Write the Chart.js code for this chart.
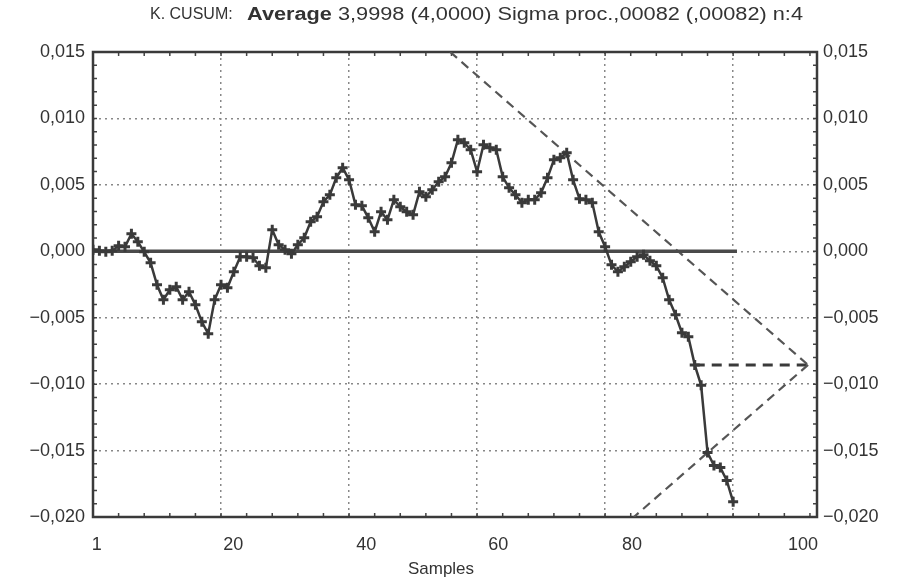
<!DOCTYPE html>
<html>
<head>
<meta charset="utf-8">
<script src="https://cdn.jsdelivr.net/npm/chart.js@4/dist/chart.umd.min.js"></script>
<style>
  body { margin: 0; background: #fff; font-family: "Liberation Sans", Arial, sans-serif; color: #333; }
  #wrap { position: relative; width: 898px; height: 581px; }
  .txt { position: absolute; white-space: nowrap; font-size: 18px; transform-origin: left center; color: #333; }
</style>
</head>
<body>
<div id="wrap">
  <canvas id="chart"></canvas>
  <span class="txt" id="t1" style="left:150px; top:5px; font-size:16px;">K. CUSUM:</span>
  <span class="txt" id="t2" style="left:247px; top:4px;"><b>Average</b> 3,9998 (4,0000) Sigma proc.,00082 (,00082) n:4</span>
  <span class="txt" id="xt" style="left:408px; top:559px; font-size:17px;">Samples</span>
</div>
<script>
// sample numbers and cumulative sums
const samples = [...Array(101).keys()]
const cusum = [
  0.00011, 0.00004, -0.00004, 0.00004, 0.00041, 0.00034, 0.00132, 0.00072, -0.00004, -0.00087,
  -0.00252, -0.00365, -0.00290, -0.00267, -0.00365, -0.00305, -0.00403, -0.00531, -0.00621, -0.00365,
  -0.00252, -0.00275, -0.00154, -0.00041, -0.00041, -0.00049, -0.00109, -0.00124, 0.00162, 0.00049,
  0.00011, -0.00019, 0.00049, 0.00102, 0.00222, 0.00260, 0.00373, 0.00425, 0.00553, 0.00629,
  0.00538, 0.00350, 0.00343, 0.00252, 0.00147, 0.00297, 0.00237, 0.00388, 0.00335, 0.00297,
  0.00275, 0.00448, 0.00410, 0.00463, 0.00523, 0.00561, 0.00666, 0.00840, 0.00817, 0.00764,
  0.00599, 0.00802, 0.00779, 0.00764, 0.00561, 0.00478, 0.00425, 0.00365, 0.00388, 0.00388,
  0.00440, 0.00553, 0.00689, 0.00704, 0.00742, 0.00538, 0.00395, 0.00388, 0.00365, 0.00147,
  0.00034, -0.00102, -0.00154, -0.00117, -0.00079, -0.00041, -0.00026, -0.00072, -0.00109, -0.00200,
  -0.00365, -0.00478, -0.00614, -0.00644, -0.00855, -0.01009, -0.01514, -0.01612, -0.01627, -0.01725,
  -0.01886
]

// target line and V-mask
const targetLine = [[0, 0], [100.6, 0]]
const maskUpper = [[55.8, 0.015], [111.7, -0.00855]]
const maskLower = [[111.7, -0.00855], [84.5, -0.020]]
const maskLead = [[94, -0.00855], [111.7, -0.00855]]

// axis ticks
const xGrid = [0, 20, 40, 60, 80, 100]
const xLabels = ['1', '20', '40', '60', '80', '100']
const xLabelAt = [0.6, 21.9, 42.7, 63.3, 84.2, 110.9]

const xMin = 0, xMax = 113.1
const yMin = -0.020, yMax = 0.015

const pts = arr => arr.map(p => ({ x: p[0], y: p[1] }))
const fmt = v => {
  if (Math.abs(v) < 1e-9) return '0,000'
  const s = Math.abs(v).toFixed(3).replace('.', ',')
  return v < 0 ? '\u2212' + s : s
}

const frame = {
  id: 'frame',
  beforeDatasetsDraw(chart) {
    const { ctx, chartArea: a, scales } = chart
    ctx.save()
    ctx.strokeStyle = '#444'
    ctx.lineWidth = 1.5
    // small inward ticks
    for (let v = 4; v < xMax; v += 4) {
      const px = scales.x.getPixelForValue(v)
      ctx.beginPath()
      ctx.moveTo(px, a.top); ctx.lineTo(px, a.top + 4)
      ctx.moveTo(px, a.bottom); ctx.lineTo(px, a.bottom - 4)
      ctx.stroke()
    }
    for (let v = -0.019; v < 0.015; v += 0.001) {
      const py = scales.y.getPixelForValue(v)
      ctx.beginPath()
      ctx.moveTo(a.left, py); ctx.lineTo(a.left + 4, py)
      ctx.moveTo(a.right, py); ctx.lineTo(a.right - 4, py)
      ctx.stroke()
    }
    ctx.lineWidth = 2.5
    ctx.strokeStyle = '#3a3a3a'
    ctx.strokeRect(a.left, a.top, a.right - a.left, a.bottom - a.top)
    ctx.restore()
  }
}

const gridStyle = { color: '#888', lineWidth: 1.5, drawTicks: false }

new Chart(document.getElementById('chart'), {
  type: 'line',
  data: {
    datasets: [
      {
        data: samples.map((s, i) => ({ x: s, y: cusum[i] })),
        borderColor: '#3a3a3a', borderWidth: 2.5,
        pointStyle: 'cross', pointRadius: 5, pointBorderWidth: 3,
        pointBorderColor: '#3a3a3a', tension: 0
      },
      { data: pts(targetLine), borderColor: '#4a4a4a', borderWidth: 3.5, pointRadius: 0 },
      { data: pts(maskUpper), borderColor: '#555', borderWidth: 2.2, borderDash: [9, 6], pointRadius: 0 },
      { data: pts(maskLower), borderColor: '#555', borderWidth: 2.2, borderDash: [9, 6], pointRadius: 0 },
      { data: pts(maskLead), borderColor: '#3a3a3a', borderWidth: 3, borderDash: [10, 7], pointRadius: 0 }
    ]
  },
  options: {
    responsive: true,
    maintainAspectRatio: false,
    animation: false,
    layout: { padding: { top: 52, left: 0, right: 0, bottom: 0 } },
    plugins: { legend: { display: false }, tooltip: { enabled: false } },
    scales: {
      x: {
        type: 'linear', min: xMin, max: xMax, position: 'bottom',
        grid: gridStyle, border: { display: false, dash: [2, 4] },
        ticks: { display: false },
        afterBuildTicks: s => { s.ticks = xGrid.map(v => ({ value: v })) },
        afterFit: s => { s.height = 0 }
      },
      x2: {
        type: 'linear', min: xMin, max: xMax, position: 'bottom',
        grid: { display: false, drawTicks: false }, border: { display: false },
        ticks: {
          autoSkip: false, maxRotation: 0, padding: 17, color: '#333',
          font: { family: 'Liberation Sans', size: 18 },
          callback: (v, i) => xLabels[i]
        },
        afterBuildTicks: s => { s.ticks = xLabelAt.map(v => ({ value: v })) },
        afterFit: s => { s.height = 64 }
      },
      y: {
        min: yMin, max: yMax, position: 'left',
        grid: gridStyle, border: { display: false, dash: [2, 4] },
        ticks: {
          stepSize: 0.005, padding: 8, color: '#333',
          font: { family: 'Liberation Sans', size: 18 },
          callback: v => fmt(v)
        },
        afterFit: s => { s.width = 93 }
      },
      y2: {
        min: yMin, max: yMax, position: 'right',
        grid: { display: false, drawTicks: false }, border: { display: false },
        ticks: {
          stepSize: 0.005, padding: 6, color: '#333',
          font: { family: 'Liberation Sans', size: 18 },
          callback: v => fmt(v)
        },
        afterFit: s => { s.width = 81 }
      }
    }
  },
  plugins: [frame]
})

// stretch the long title part and the axis title to the widths they have in the picture
function fitWidth(id, w) {
  const el = document.getElementById(id)
  el.style.transform = 'scaleX(' + (w / el.getBoundingClientRect().width) + ')'
}
fitWidth('t2', 556)
fitWidth('xt', 66)
</script>
</body>
</html>
